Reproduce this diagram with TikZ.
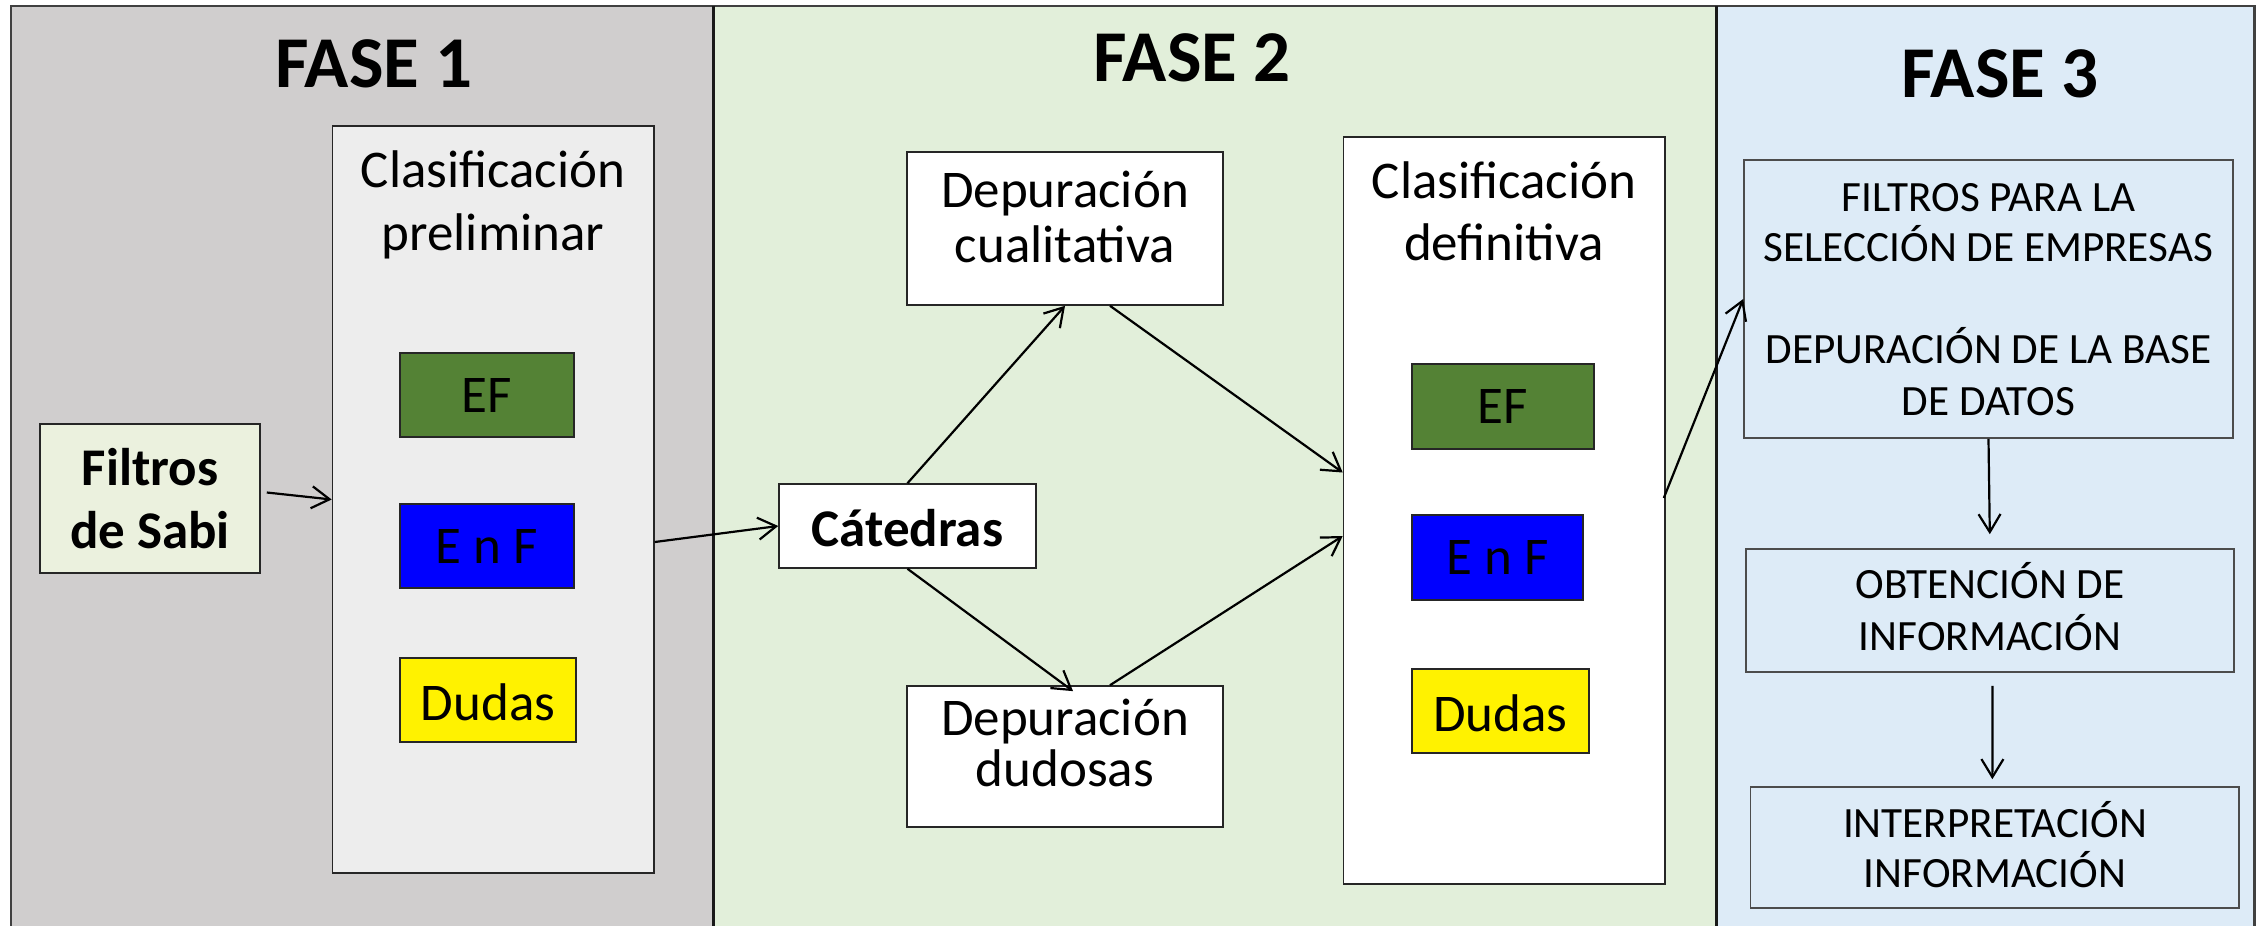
\documentclass[tikz,border=0pt]{standalone}
\usepackage{fontspec}
\setmainfont{Carlito}
\usetikzlibrary{arrows.meta,fit}
\definecolor{phA}{HTML}{D0CECE}
\definecolor{phB}{HTML}{E2EFDA}
\definecolor{phC}{HTML}{DDEBF7}
\definecolor{prelfill}{HTML}{EDEDED}
\definecolor{sabifill}{HTML}{EBF1DE}
\definecolor{efgreen}{HTML}{548235}
\definecolor{framecol}{HTML}{404040}
\begin{document}
\begin{tikzpicture}[x=0.5pt,y=-0.5pt,
  txt/.style={anchor=base, inner sep=0pt, font=\fontsize{26.5}{31.5}\selectfont},
  btxt/.style={anchor=base, inner sep=0pt, font=\fontsize{26.5}{31.5}\selectfont\bfseries},
  ctxt/.style={anchor=base, inner sep=0pt, font=\fontsize{21.6}{26}\selectfont},
  mtxt/.style={anchor=center, inner sep=0pt, font=\fontsize{26.5}{31.5}\selectfont},
  titletxt/.style={anchor=base, inner sep=0pt, font=\fontsize{36.5}{44}\selectfont\bfseries},
  box/.style={inner sep=0pt, draw=black!85, line width=0.8pt},
  pbox/.style={inner sep=0pt, draw=black!70, line width=0.8pt, fill=phC},
  arr/.style={-{Straight Barb[length=9pt,width=11pt]}, line width=1.1pt},
]
\useasboundingbox (0,0) rectangle (2256,926);
\clip (0,0) rectangle (2256,926);
\fill[white] (0,0) rectangle (2256,926);
% panels
\fill[phA] (11,6) rectangle (713,940);
\fill[phB] (713,6) rectangle (1716,940);
\fill[phC] (1716,6) rectangle (2254,940);
\draw[framecol, line width=1.3pt] (11,6) rectangle (2254.5,940);
\draw[black!90, line width=1.5pt] (713,6) -- (713,940);
\draw[black!90, line width=1.5pt] (1716,6) -- (1716,940);
% titles
\node[titletxt] (t1) at (374,87) {FASE 1};
\node[titletxt] (t2) at (1192,81.5) {FASE 2};
\node[titletxt] (t3) at (2000,97.5) {FASE 3};
% phase 1
\node[box, fill=sabifill, fit={(40,424) (260,573)}] (sabi) {};
\node[btxt] at (150,485.5) {Filtros};
\node[btxt] at (150,548) {de Sabi};
\node[box, fill=prelfill, fit={(332.5,126) (654,873)}] (prelim) {};
\node[txt] at (493,187) {Clasificación};
\node[txt] at (493,250) {preliminar};
\node[box, fill=efgreen, fit={(400,353) (574,437)}] (ef1) {};
\node[mtxt] at (ef1.center) {EF};
\node[box, fill=blue, fit={(400,504) (574,588)}] (enf1) {};
\node[mtxt] at (enf1.center) {E n F};
\node[box, fill=yellow, fit={(400,658) (576,742)}] (dud1) {};
\node[mtxt] at ([yshift=-1pt]dud1.center) {Dudas};
% phase 2
\node[box, fill=white, fit={(779,484) (1036,568)}] (cat) {};
\node[mtxt, font=\fontsize{26.5}{31.5}\selectfont\bfseries] at ([yshift=-1pt]cat.center) {Cátedras};
\node[box, fill=white, fit={(907,152) (1223,305)}] (depcual) {};
\node[txt] at (1065,207) {Depuración};
\node[txt] at (1065,262) {cualitativa};
\node[box, fill=white, fit={(907,686) (1223,827)}] (depdud) {};
\node[txt] at (1065,735) {Depuración};
\node[txt] at (1065,786) {dudosas};
\node[box, fill=white, fit={(1343.5,137) (1665,884)}] (clasdef) {};
\node[txt] at (1504,198) {Clasificación};
\node[txt] at (1504,260) {definitiva};
\node[box, fill=efgreen, fit={(1412,364) (1594,449)}] (ef2) {};
\node[mtxt] at (ef2.center) {EF};
\node[box, fill=blue, fit={(1412,515) (1583,600)}] (enf2) {};
\node[mtxt] at (enf2.center) {E n F};
\node[box, fill=yellow, fit={(1412,669) (1589,753)}] (dud2) {};
\node[mtxt] at ([yshift=-1pt]dud2.center) {Dudas};
% phase 3
\node[pbox, fit={(1744,160) (2233,438)}] (filt) {};
\node[ctxt] at (1988.5,211) {FILTROS PARA LA};
\node[ctxt] at (1988.5,261) {SELECCIÓN DE EMPRESAS};
\node[ctxt] at (1988.5,363) {DEPURACIÓN DE LA BASE};
\node[ctxt] at (1988.5,415) {DE DATOS};
\node[pbox, fit={(1746,549) (2234,672)}] (obt) {};
\node[ctxt] at (1990,598) {OBTENCIÓN DE};
\node[ctxt] at (1990,650) {INFORMACIÓN};
\node[pbox, fit={(1750.5,787) (2239,908)}] (interp) {};
\node[ctxt] at (1995,837) {INTERPRETACIÓN};
\node[ctxt] at (1995,887) {INFORMACIÓN};
% connectors
\draw[arr] ([shift={(6,-6)}]sabi.east) -- (prelim.west);
\draw[arr] ([shift={(0,42.5)}]prelim.east) -- (cat.west);
\draw[arr] (cat.north) -- (depcual.south);
\draw[arr, shorten >=-5pt] (cat.south) -- (depdud.north);
\draw[arr] ([shift={(45,0)}]depcual.south) -- ([shift={(0,-38)}]clasdef.west);
\draw[arr] ([shift={(45,0)}]depdud.north) -- ([shift={(0,25.5)}]clasdef.west);
\draw[arr] ([shift={(-2,-12.5)}]clasdef.east) -- (filt.west);
\draw[arr, shorten >=7pt] (filt.south) -- (obt.north);
\draw[arr, shorten <=6.5pt, shorten >=3.5pt] ([shift={(2.6,0)}]obt.south) -- ([shift={(2.6-5,0)}]interp.north);
\end{tikzpicture}
\end{document}
